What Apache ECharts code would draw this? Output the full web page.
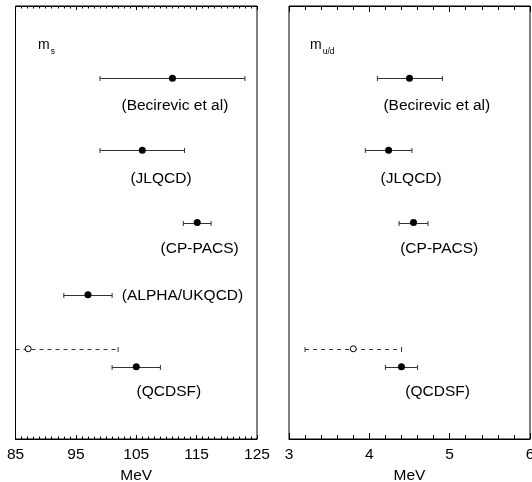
<!DOCTYPE html>
<html>
<head>
<meta charset="utf-8">
<script src="https://cdn.jsdelivr.net/npm/echarts@6/dist/echarts.min.js"></script>
<style>html,body{margin:0;padding:0;background:#fff}#c{width:532px;height:482px}</style>
</head>
<body>
<div id="c"></div>
<script>
// ---- data ----
const groups = ['Becirevic et al', 'JLQCD', 'CP-PACS', 'ALPHA/UKQCD', 'QCDSF'];
const rows = [1, 2, 3, 4, 5];
// m_s (MeV)
const msCenter = [111, 106, 115.1, 97, 105];
const msLow    = [99, 99, 112.8, 93, 101];
const msHigh   = [123, 113, 117.4, 101, 109];
// m_u/d (MeV)
const mudCenter = [4.5, 4.24, 4.55, null, 4.4];
const mudLow    = [4.1, 3.95, 4.37, null, 4.2];
const mudHigh   = [4.91, 4.53, 4.73, null, 4.6];
// earlier QCDSF result (dashed, open circle)
const priorRow = 4.75;
const msPrior = {center: 87.1, low: 72, high: 102};
const mudPrior = {center: 3.8, low: 3.2, high: 4.4};
// axis ticks
const msTicks = [85, 95, 105, 115, 125];
const mudTicks = [3, 4, 5, 6];
// annotation anchors (data coords)
const msLabelX   = [111.4, 109.1, 115.5, 102.6, 110.4];
const msLabelRow = [1.38, 2.39, 3.37, 4.01, 5.34];
const mudLabelX   = [4.84, 4.52, 4.87, null, 4.85];
const mudLabelRow = [1.38, 2.39, 3.37, null, 5.34];

const FONT = 'Liberation Sans, Arial, Helvetica, sans-serif';
const chart = echarts.init(document.getElementById('c'));

function barRender(dashed) {
  return function (params, api) {
    const lo = api.value(0), hi = api.value(1), row = api.value(2);
    const p1 = api.coord([lo, row]), p2 = api.coord([hi, row]);
    const cs = params.coordSys;
    const x1 = Math.max(p1[0], cs.x), x2 = Math.min(p2[0], cs.x + cs.width);
    const y = Math.round(p1[1]) + 0.5;
    const style = {stroke: '#333', lineWidth: 1, lineDash: dashed ? [4, 4] : null};
    const ch = [{type: 'line', shape: {x1: x1, y1: y, x2: x2, y2: y}, style: style}];
    const cap = 2.5;
    if (p1[0] >= cs.x) ch.push({type: 'line', shape: {x1: p1[0], y1: y - cap, x2: p1[0], y2: y + cap}, style: {stroke: '#333', lineWidth: 1}});
    if (p2[0] <= cs.x + cs.width) ch.push({type: 'line', shape: {x1: p2[0], y1: y - cap, x2: p2[0], y2: y + cap}, style: {stroke: '#333', lineWidth: 1}});
    return {type: 'group', children: ch};
  };
}

function barsData(lo, hi) {
  const out = [];
  for (let i = 0; i < rows.length; i++) if (lo[i] != null) out.push([lo[i], hi[i], rows[i]]);
  return out;
}
function ptsData(c) {
  const out = [];
  for (let i = 0; i < rows.length; i++) if (c[i] != null) out.push([c[i], rows[i]]);
  return out;
}
function textRender(params, api) {
  const p = api.coord([api.value(0), api.value(1)]);
  return {type: 'text', x: p[0], y: p[1], style: {text: api.value(2), fill: '#000', font: '15.5px ' + FONT, align: api.value(3), verticalAlign: 'middle'}};
}
function labelDataArr(xs, rs) {
  const out = [];
  for (let i = 0; i < groups.length; i++) if (xs[i] != null) out.push([xs[i], rs[i], '(' + groups[i] + ')', i === 3 ? 'left' : 'center']);
  return out;
}

function xAxes(gi, min, max, interval, minorSplit, majLen, minLen, ticks) {
  const common = {
    type: 'value', gridIndex: gi, min: min, max: max, interval: interval,
    axisLine: {show: true, onZero: false, lineStyle: {color: '#000', width: 1}},
    axisTick: {show: true, inside: true, length: majLen, lineStyle: {color: '#000'}},
    minorTick: {show: true, splitNumber: minorSplit, length: minLen, lineStyle: {color: '#000'}},
    splitLine: {show: false}
  };
  return [
    Object.assign({}, common, {
      position: 'bottom',
      name: 'MeV', nameLocation: 'middle', nameGap: 27,
      nameTextStyle: {fontFamily: FONT, fontSize: 15.5, color: '#000'},
      axisLabel: {show: true, margin: 8, fontFamily: FONT, fontSize: 15.5, color: '#000', showMinLabel: true, showMaxLabel: true,
        formatter: function (v) { return ticks.indexOf(Math.round(v * 1000) / 1000) >= 0 ? String(v) : ''; }}
    }),
    Object.assign({}, common, {position: 'top', axisLabel: {show: false}})
  ];
}

const subStyle = {m: {font: '14px ' + FONT, fill: '#000'}, s: {font: '8.5px ' + FONT, fill: '#000', padding: [14, 0, 0, 1]}};
const option = {
  backgroundColor: '#fff',
  animation: false,
  grid: [
    {left: 15.5, right: 275, top: 6, bottom: 43, show: true, borderColor: '#000', borderWidth: 1, backgroundColor: 'transparent', containLabel: false, outerBoundsMode: 'none'},
    {left: 289, right: 2, top: 6, bottom: 43, show: true, borderColor: '#000', borderWidth: 1, backgroundColor: 'transparent', containLabel: false, outerBoundsMode: 'none'}
  ],
  xAxis: [].concat(
    xAxes(0, 85, 125, 10, 10, 4, 2.5, msTicks),
    xAxes(1, 3, 6, 1, 5, 6, 4, mudTicks)
  ),
  yAxis: [
    {type: 'value', gridIndex: 0, min: 0, max: 6, inverse: true, show: false},
    {type: 'value', gridIndex: 1, min: 0, max: 6, inverse: true, show: false}
  ],
  graphic: [
    {type: 'text', left: 38, top: 38, style: {text: '{m|m}{s|s}', rich: subStyle}},
    {type: 'text', left: 310, top: 38, style: {text: '{m|m}{s|u/d}', rich: subStyle}}
  ],
  series: [
    {type: 'custom', xAxisIndex: 0, yAxisIndex: 0, renderItem: barRender(false), data: barsData(msLow, msHigh), z: 2},
    {type: 'custom', xAxisIndex: 0, yAxisIndex: 0, renderItem: barRender(true), data: [[msPrior.low, msPrior.high, priorRow]], z: 2},
    {type: 'scatter', xAxisIndex: 0, yAxisIndex: 0, data: ptsData(msCenter), symbol: 'circle', symbolSize: 7, itemStyle: {color: '#000', opacity: 1}, z: 3},
    {type: 'scatter', xAxisIndex: 0, yAxisIndex: 0, data: [[msPrior.center, priorRow]], symbol: 'circle', symbolSize: 6, itemStyle: {color: '#fff', borderColor: '#000', borderWidth: 1, opacity: 1}, z: 3},
    {type: 'custom', xAxisIndex: 0, yAxisIndex: 0, renderItem: textRender, data: labelDataArr(msLabelX, msLabelRow), z: 4},

    {type: 'custom', xAxisIndex: 2, yAxisIndex: 1, renderItem: barRender(false), data: barsData(mudLow, mudHigh), z: 2},
    {type: 'custom', xAxisIndex: 2, yAxisIndex: 1, renderItem: barRender(true), data: [[mudPrior.low, mudPrior.high, priorRow]], z: 2},
    {type: 'scatter', xAxisIndex: 2, yAxisIndex: 1, data: ptsData(mudCenter), symbol: 'circle', symbolSize: 7, itemStyle: {color: '#000', opacity: 1}, z: 3},
    {type: 'scatter', xAxisIndex: 2, yAxisIndex: 1, data: [[mudPrior.center, priorRow]], symbol: 'circle', symbolSize: 6, itemStyle: {color: '#fff', borderColor: '#000', borderWidth: 1, opacity: 1}, z: 3},
    {type: 'custom', xAxisIndex: 2, yAxisIndex: 1, renderItem: textRender, data: labelDataArr(mudLabelX, mudLabelRow), z: 4}
  ]
};
chart.setOption(option);
</script>
</body>
</html>
